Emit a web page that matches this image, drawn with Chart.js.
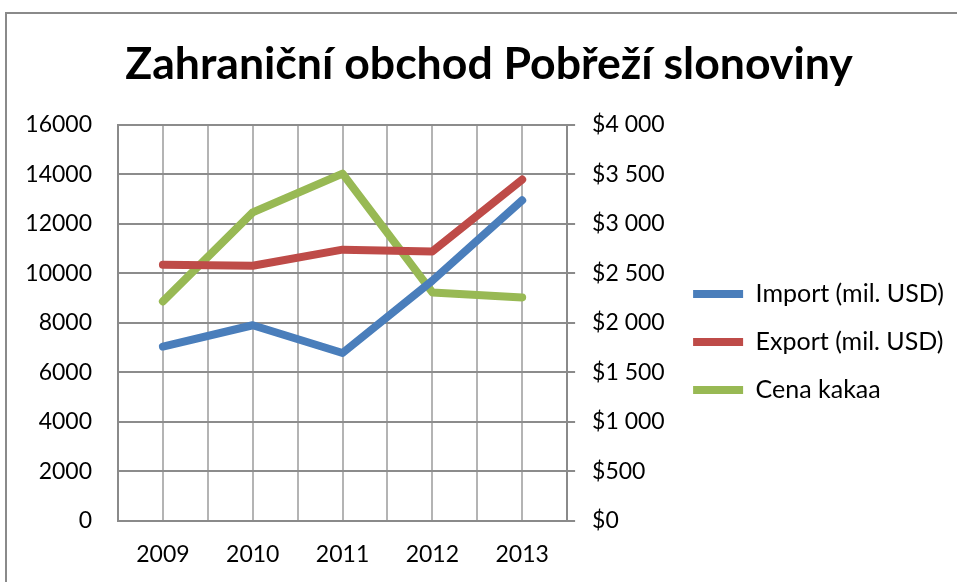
<!DOCTYPE html>
<html>
<head>
<meta charset="utf-8">
<script src="https://cdn.jsdelivr.net/npm/chart.js@4/dist/chart.umd.min.js"></script>
<style>
  html, body { margin: 0; padding: 0; background: #fff; overflow: hidden; }
  #frame { position: absolute; left: 5px; top: 12px; width: 1000px; height: 1000px; border-left: 2px solid #8a8a8a; border-top: 2px solid #8a8a8a; }
  #wrap { position: absolute; left: 0; top: 0; width: 957px; height: 582px; }
</style>
</head>
<body>
<div id="frame"></div>
<div id="wrap"><canvas id="chart"></canvas></div>
<script>
const years = ['2009', '2010', '2011', '2012', '2013']
const importValues = [7040, 7900, 6780, 9700, 12940]
const exportValues = [10340, 10300, 10950, 10880, 13780]
const cocoaPrices = [2215, 3114, 3505, 2306, 2256]
const leftTicks = [0, 16000, 2000]
const rightTicks = [0, 4000, 500]

const fontFamily = 'Lato, "Open Sans", sans-serif'

function money (v) {
  return '$' + String(v).replace(/\B(?=(\d{3})+(?!\d))/g, ' ')
}

function buildDataset (label, values, color, axis) {
  return {
    label: label,
    data: values.map((v, i) => ({ x: i, y: v })),
    borderColor: color,
    backgroundColor: color,
    borderWidth: 8,
    borderCapStyle: 'round',
    borderJoinStyle: 'round',
    pointRadius: 0,
    pointHoverRadius: 0,
    pointStyle: 'line',
    tension: 0,
    yAxisID: axis
  }
}

new Chart(document.getElementById('chart'), {
  type: 'line',
  data: {
    datasets: [
      buildDataset('Import (mil. USD)', importValues, '#4a7ebb', 'y'),
      buildDataset('Export (mil. USD)', exportValues, '#be4b48', 'y'),
      buildDataset('Cena kakaa', cocoaPrices, '#98b954', 'y1')
    ]
  },
  options: {
    responsive: true,
    maintainAspectRatio: false,
    animation: false,
    layout: { padding: { left: 24, right: 3, top: 0, bottom: 0 } },
    plugins: {
      tooltip: { enabled: false },
      title: {
        display: true,
        text: 'Zahraniční obchod Pobřeží slonoviny',
        color: '#000',
        font: { family: fontFamily, size: 44.6, weight: 'bold' },
        padding: { top: 38, bottom: 33 }
      },
      legend: {
        display: true,
        position: 'right',
        align: 'center',
        maxWidth: 300,
        title: { display: true, text: '', font: { size: 1 }, padding: { top: 101, bottom: 0 } },
        labels: {
          color: '#000',
          font: { family: fontFamily, size: 25 },
          usePointStyle: true,
          pointStyleWidth: 50,
          boxHeight: 7,
          padding: 23
        }
      }
    },
    scales: {
      x: {
        type: 'linear',
        min: -0.5,
        max: 4.5,
        border: { display: true, color: '#8a8a8a', width: 2 },
        grid: { color: '#b4b4b4', lineWidth: 2, drawTicks: false },
        ticks: {
          stepSize: 0.5,
          autoSkip: false,
          maxRotation: 0,
          padding: 20,
          color: '#000',
          font: { family: fontFamily, size: 23 },
          callback: (v) => Number.isInteger(v) ? years[v] : ''
        },
        afterFit: (s) => { s.height = 61 }
      },
      y: {
        position: 'left',
        min: leftTicks[0],
        max: leftTicks[1],
        border: { display: true, color: '#8a8a8a', width: 2 },
        grid: { color: '#8c8c8c', lineWidth: 2, drawTicks: false },
        ticks: {
          stepSize: leftTicks[2],
          padding: 26,
          color: '#000',
          font: { family: fontFamily, size: 23 },
          callback: (v) => String(v)
        },
        afterFit: (s) => { s.width = 94 }
      },
      y1: {
        position: 'right',
        min: rightTicks[0],
        max: rightTicks[1],
        border: { display: true, color: '#8a8a8a', width: 2 },
        grid: { drawOnChartArea: false, color: '#8a8a8a', lineWidth: 2, tickLength: 8 },
        ticks: {
          stepSize: rightTicks[2],
          padding: 17,
          color: '#000',
          font: { family: fontFamily, size: 23 },
          callback: (v) => money(v)
        },
        afterFit: (s) => { s.width = 103 }
      }
    }
  }
})
</script>
</body>
</html>
